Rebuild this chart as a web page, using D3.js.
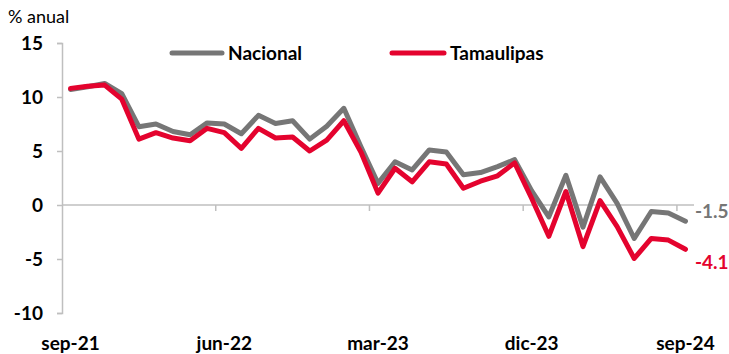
<!DOCTYPE html>
<html>
<head>
<meta charset="utf-8">
<script src="https://cdn.jsdelivr.net/npm/d3@7"></script>
<style>
  html, body { margin: 0; padding: 0; background: #fff; }
  svg { display: block; font-family: Lato, "Open Sans", sans-serif; }
</style>
</head>
<body>
<svg id="chart" width="729" height="354"></svg>
<script>
// Monthly categories, sep-21 to sep-24
const months = [
  "sep-21","oct-21","nov-21","dic-21","ene-22","feb-22","mar-22","abr-22","may-22",
  "jun-22","jul-22","ago-22","sep-22","oct-22","nov-22","dic-22","ene-23","feb-23",
  "mar-23","abr-23","may-23","jun-23","jul-23","ago-23","sep-23","oct-23","nov-23",
  "dic-23","ene-24","feb-24","mar-24","abr-24","may-24","jun-24","jul-24","ago-24","sep-24"
];

// Annual % change
const nacional = [
  10.7, 10.95, 11.25, 10.3, 7.25, 7.5, 6.8, 6.5, 7.6,
  7.5, 6.6, 8.3, 7.55, 7.8, 6.1, 7.3, 8.95, 5.4,
  2.0, 4.0, 3.25, 5.1, 4.9, 2.8, 3.0, 3.55, 4.2,
  1.3, -1.1, 2.75, -2.05, 2.6, 0.15, -3.1, -0.6, -0.75, -1.5
];
const tamaulipas = [
  10.8, 11.0, 11.1, 9.8, 6.1, 6.7, 6.2, 5.95, 7.1,
  6.7, 5.25, 7.1, 6.2, 6.3, 5.0, 6.0, 7.8, 4.9,
  1.1, 3.4, 2.15, 4.0, 3.8, 1.55, 2.2, 2.7, 3.9,
  0.6, -2.9, 1.25, -3.85, 0.4, -2.0, -4.95, -3.1, -3.25, -4.1
];

const yTicks = [15, 10, 5, 0, -5, -10];
const xLabels = ["sep-21", "jun-22", "mar-23", "dic-23", "sep-24"];

const seriesNames = ["Nacional", "Tamaulipas"];
const seriesColors = ["#767676", "#e4032e"];

const svg = d3.select("#chart");
const plotLeft = 62, plotRight = 694, plotTop = 43, plotBottom = 313;
const labelSize = 19;
// plain hyphen for negatives
const fmt1 = v => v.toFixed(1);

const x = d3.scaleBand().domain(months).range([plotLeft, plotRight]).paddingInner(0).paddingOuter(0);
const y = d3.scaleLinear().domain([-10, 15]).range([plotBottom, plotTop]);
const cx = m => x(m) + x.bandwidth() / 2;

// y axis
const yAxis = svg.append("g")
  .attr("transform", `translate(${plotLeft},0)`)
  .call(d3.axisLeft(y).tickValues(yTicks).tickSize(5).tickPadding(14).tickFormat(d => String(d)));
yAxis.select(".domain").attr("stroke", "#bfbfbf").attr("stroke-width", 1.5);
yAxis.selectAll(".tick line").attr("stroke", "#bfbfbf").attr("stroke-width", 1.5);
yAxis.selectAll(".tick text")
  .attr("fill", "#000").attr("font-size", labelSize).attr("font-weight", "bold")
  .attr("font-family", "Lato, sans-serif");

// zero line with ticks between category groups
const boundaries = months.filter((m, i) => i > 0 && i % 9 === 0).map(m => x(m));
svg.append("line")
  .attr("x1", plotLeft).attr("x2", plotRight)
  .attr("y1", y(0)).attr("y2", y(0))
  .attr("stroke", "#bfbfbf").attr("stroke-width", 1.5);
svg.selectAll("line.xtick").data(boundaries).join("line")
  .attr("class", "xtick")
  .attr("x1", d => d).attr("x2", d => d)
  .attr("y1", y(0)).attr("y2", y(0) + 6)
  .attr("stroke", "#bfbfbf").attr("stroke-width", 1.5);

// category labels at the bottom
svg.selectAll("text.xlab").data(xLabels).join("text")
  .attr("class", "xlab")
  .attr("x", d => cx(d)).attr("y", 350)
  .attr("text-anchor", "middle")
  .attr("font-size", labelSize).attr("font-weight", "bold").attr("fill", "#000")
  .text(d => d);

// unit label
svg.append("text")
  .attr("x", 8).attr("y", 23)
  .attr("font-size", 18).attr("fill", "#000")
  .text("% anual");

// lines
const line = d3.line().x((d, i) => cx(months[i])).y(d => y(d)).curve(d3.curveLinear);
[nacional, tamaulipas].forEach((vals, k) => {
  svg.append("path")
    .datum(vals)
    .attr("d", line)
    .attr("fill", "none")
    .attr("stroke", seriesColors[k])
    .attr("stroke-width", 5)
    .attr("stroke-linejoin", "round")
    .attr("stroke-linecap", "round");
});

// end-of-series value labels
const last = months.length - 1;
svg.append("text")
  .attr("x", 695).attr("y", y(nacional[last]) - 10)
  .attr("dy", "0.35em")
  .attr("font-size", labelSize).attr("font-weight", "bold").attr("fill", seriesColors[0])
  .text(fmt1(nacional[last]));
svg.append("text")
  .attr("x", 695).attr("y", y(tamaulipas[last]) + 13)
  .attr("dy", "0.35em")
  .attr("font-size", labelSize).attr("font-weight", "bold").attr("fill", seriesColors[1])
  .text(fmt1(tamaulipas[last]));

// legend
const legendPos = [{ x1: 172, x2: 222, tx: 228 }, { x1: 392, x2: 444, tx: 450 }];
const legY = 53;
seriesNames.forEach((name, k) => {
  const p = legendPos[k];
  svg.append("line")
    .attr("x1", p.x1).attr("x2", p.x2).attr("y1", legY).attr("y2", legY)
    .attr("stroke", seriesColors[k]).attr("stroke-width", 5).attr("stroke-linecap", "round");
  svg.append("text")
    .attr("x", p.tx).attr("y", legY).attr("dy", "0.35em")
    .attr("font-size", labelSize).attr("font-weight", "bold").attr("fill", "#000")
    .text(name);
});
</script>
</body>
</html>
